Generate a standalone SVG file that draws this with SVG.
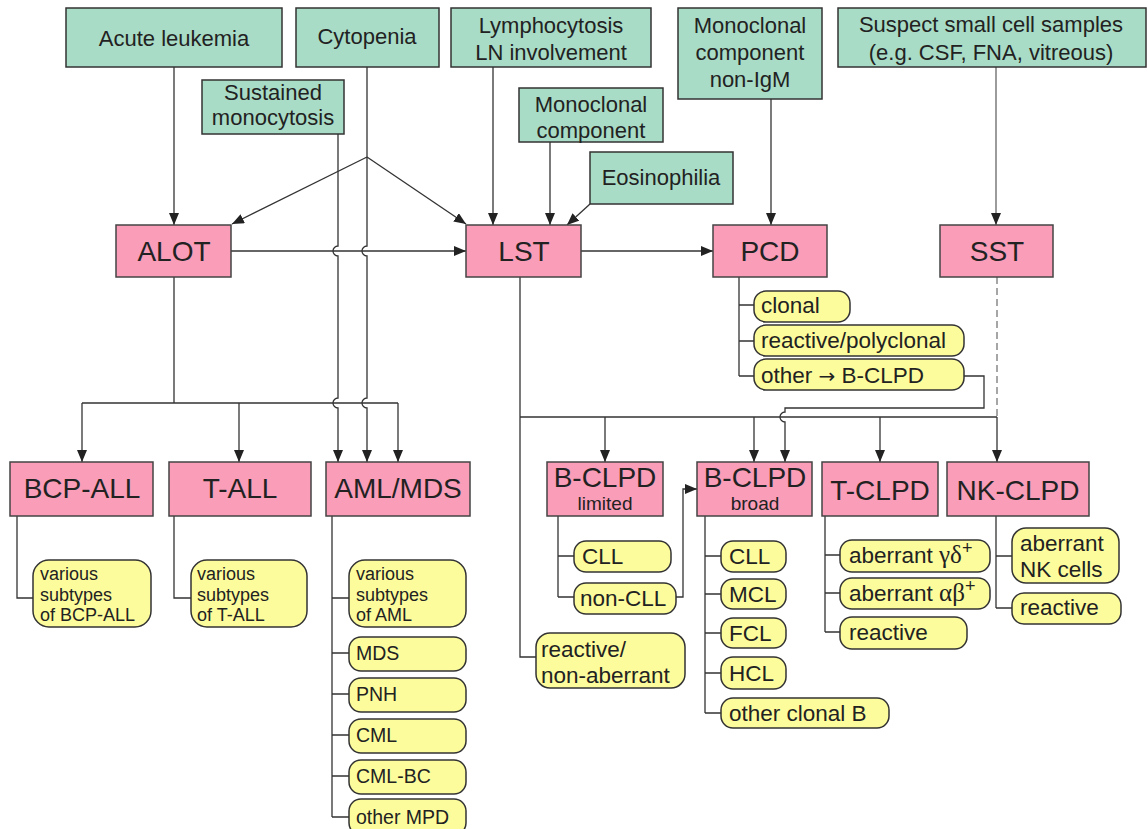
<svg xmlns="http://www.w3.org/2000/svg" width="1148" height="829" viewBox="0 0 1148 829">
<style>
.g{fill:#a9dcc6;stroke:#333;stroke-width:1.5}
.p{fill:#f99db8;stroke:#444;stroke-width:1.5}
.y{fill:#fdfc9c;stroke:#333;stroke-width:1.5}
.ln{fill:none;stroke:#333;stroke-width:1.3}
.t{font-family:"Liberation Sans",Arial,sans-serif;fill:#222}
.gt{font-size:22px;text-anchor:middle}
.pt{font-size:28px;text-anchor:middle}
.yt{font-size:22.5px}
.st{font-size:19.5px}
.mt{font-size:18px}
.gr{font-family:"Liberation Serif","DejaVu Serif",serif;font-size:25px}
.ar{font-family:"DejaVu Sans",sans-serif;font-size:20px}
</style>
<defs>
<marker id="ah" viewBox="0 0 12 10" markerWidth="12" markerHeight="10" refX="12" refY="5" orient="auto" markerUnits="userSpaceOnUse">
<path d="M0,0 L12,5 L0,10 z" fill="#222"/>
</marker>
</defs>

<g id="connectors">
<path class="ln" d="M174,67 V225" marker-end="url(#ah)"/>
<path class="ln" d="M367,67 V246 a5,5 0 0 0 0,10 V398 a5,5 0 0 0 0,10 V462" marker-end="url(#ah)"/>
<path class="ln" d="M367,157 L232,224" marker-end="url(#ah)"/>
<path class="ln" d="M367,157 L466,224" marker-end="url(#ah)"/>
<path class="ln" d="M338,134 V246 a5,5 0 0 0 0,10 V398 a5,5 0 0 0 0,10 V462" marker-end="url(#ah)"/>
<path class="ln" d="M231,251 H466" marker-end="url(#ah)"/>
<path class="ln" d="M493,67 V225" marker-end="url(#ah)"/>
<path class="ln" d="M550,142 V225" marker-end="url(#ah)"/>
<path class="ln" d="M590,204 L567,225" marker-end="url(#ah)"/>
<path class="ln" d="M771,99 V225" marker-end="url(#ah)"/>
<path class="ln" d="M996,67 V225" style="stroke:#666" marker-end="url(#ah)"/>
<path class="ln" d="M581,251 H713" marker-end="url(#ah)"/>
<path class="ln" d="M174,277 V403 M82,403 H398"/>
<path class="ln" d="M82,403 V462" marker-end="url(#ah)"/>
<path class="ln" d="M239,403 V462" marker-end="url(#ah)"/>
<path class="ln" d="M398,403 V462" marker-end="url(#ah)"/>
<path class="ln" d="M739,277 V376 M739,305 H754 M739,341 H754 M739,376 H754"/>
<path class="ln" d="M520,277 V657 H536 M520,417 H997"/>
<path class="ln" d="M997,277 V417" style="stroke:#777;stroke-dasharray:7,4"/>
<path class="ln" d="M605,417 V462" marker-end="url(#ah)"/>
<path class="ln" d="M754,417 V462" marker-end="url(#ah)"/>
<path class="ln" d="M880,417 V462" marker-end="url(#ah)"/>
<path class="ln" d="M997,417 V462" marker-end="url(#ah)"/>
<path class="ln" d="M964,376 H984 V408 H785 V412 a5,5 0 0 0 0,10 V462" marker-end="url(#ah)"/>
<path class="ln" d="M17,516 V598 H33 M174,516 V598 H191"/>
<path class="ln" d="M332,516 V817 M332,598 H349 M332,653 H349 M332,694 H349 M332,735 H349 M332,776 H349 M332,817 H349"/>
<path class="ln" d="M558,516 V597 M558,556 H574 M558,597 H574"/>
<path class="ln" d="M676,597 H683 V489 H697" marker-end="url(#ah)"/>
<path class="ln" d="M705,516 V713 M705,556 H721 M705,594 H721 M705,633 H721 M705,673 H721 M705,713 H721"/>
<path class="ln" d="M825,516 V632 M825,555 H840 M825,593 H840 M825,632 H840"/>
<path class="ln" d="M996,516 V608 M996,556 H1012 M996,608 H1012"/>
</g>

<g id="acute-leukemia"><rect class="g" x="66" y="8" width="216" height="59"/><text class="t gt" x="174" y="46">Acute leukemia</text></g>
<g id="cytopenia"><rect class="g" x="296" y="8" width="143" height="59"/><text class="t gt" x="367" y="44">Cytopenia</text></g>
<g id="sustained-monocytosis"><rect class="g" x="202" y="80" width="142" height="54"/><text class="t gt" x="273" y="100">Sustained</text><text class="t gt" x="273" y="125">monocytosis</text></g>
<g id="lymphocytosis"><rect class="g" x="451" y="8" width="200" height="59"/><text class="t gt" x="551" y="33">Lymphocytosis</text><text class="t gt" x="551" y="60">LN involvement</text></g>
<g id="monoclonal"><rect class="g" x="519" y="88" width="144" height="54"/><text class="t gt" x="591" y="112">Monoclonal</text><text class="t gt" x="591" y="138">component</text></g>
<g id="eosinophilia"><rect class="g" x="590" y="152" width="143" height="52"/><text class="t gt" x="661" y="185">Eosinophilia</text></g>
<g id="monoclonal-nonigm"><rect class="g" x="678" y="8" width="144" height="91"/><text class="t gt" x="750" y="33">Monoclonal</text><text class="t gt" x="750" y="60">component</text><text class="t gt" x="750" y="87">non-IgM</text></g>
<g id="suspect"><rect class="g" x="838" y="8" width="308" height="59"/><text class="t gt" x="991" y="32">Suspect small cell samples</text><text class="t gt" x="991" y="60">(e.g. CSF, FNA, vitreous)</text></g>

<g id="alot"><rect class="p" x="116" y="225" width="115" height="52"/><text class="t pt" x="174" y="261">ALOT</text></g>
<g id="lst"><rect class="p" x="466" y="225" width="115" height="52"/><text class="t pt" x="524" y="261">LST</text></g>
<g id="pcd"><rect class="p" x="713" y="225" width="114" height="52"/><text class="t pt" x="770" y="261">PCD</text></g>
<g id="sst"><rect class="p" x="940" y="225" width="113" height="52"/><text class="t pt" x="997" y="261">SST</text></g>

<g id="pcd-clonal"><rect class="y" x="754" y="291" width="96" height="31" rx="12"/><text class="t yt" x="761" y="313">clonal</text></g>
<g id="pcd-reactive"><rect class="y" x="754" y="325" width="210" height="31" rx="12"/><text class="t yt" x="761" y="348">reactive/polyclonal</text></g>
<g id="pcd-other"><rect class="y" x="754" y="359" width="210" height="31" rx="12"/><text class="t yt" x="761" y="383">other <tspan class="ar">→</tspan> B-CLPD</text></g>

<g id="bcp-all"><rect class="p" x="10" y="462" width="143" height="54"/><text class="t pt" x="82" y="498">BCP-ALL</text></g>
<g id="t-all"><rect class="p" x="169" y="462" width="142" height="54"/><text class="t pt" x="240" y="498">T-ALL</text></g>
<g id="aml-mds"><rect class="p" x="326" y="462" width="144" height="54"/><text class="t pt" x="398" y="498">AML/MDS</text></g>

<g id="bcp-sub"><rect class="y" x="33" y="560" width="118" height="67" rx="16"/><text class="t mt" x="40" y="580">various</text><text class="t mt" x="40" y="600.5">subtypes</text><text class="t mt" x="40" y="621">of BCP-ALL</text></g>
<g id="tall-sub"><rect class="y" x="191" y="560" width="116" height="67" rx="16"/><text class="t mt" x="197" y="580">various</text><text class="t mt" x="197" y="600.5">subtypes</text><text class="t mt" x="197" y="621">of T-ALL</text></g>
<g id="aml-sub"><rect class="y" x="349" y="560" width="117" height="67" rx="16"/><text class="t mt" x="356" y="580">various</text><text class="t mt" x="356" y="600.5">subtypes</text><text class="t mt" x="356" y="621">of AML</text></g>
<g id="mds"><rect class="y" x="349" y="637" width="117" height="34" rx="12"/><text class="t st" x="356" y="660">MDS</text></g>
<g id="pnh"><rect class="y" x="349" y="678" width="117" height="34" rx="12"/><text class="t st" x="356" y="701">PNH</text></g>
<g id="cml"><rect class="y" x="349" y="719" width="117" height="34" rx="12"/><text class="t st" x="356" y="742">CML</text></g>
<g id="cml-bc"><rect class="y" x="349" y="760" width="117" height="34" rx="12"/><text class="t st" x="356" y="783">CML-BC</text></g>
<g id="other-mpd"><rect class="y" x="349" y="799" width="117" height="36" rx="12"/><text class="t st" x="356" y="824">other MPD</text></g>

<g id="bclpd-limited"><rect class="p" x="547" y="462" width="116" height="54"/><text class="t pt" x="605" y="487">B-CLPD</text><text class="t" x="605" y="510" style="font-size:19px;text-anchor:middle">limited</text></g>
<g id="bclpd-broad"><rect class="p" x="697" y="462" width="115" height="54"/><text class="t pt" x="755" y="487">B-CLPD</text><text class="t" x="755" y="510" style="font-size:19px;text-anchor:middle">broad</text></g>
<g id="tclpd"><rect class="p" x="822" y="462" width="116" height="54"/><text class="t pt" x="880" y="500">T-CLPD</text></g>
<g id="nkclpd"><rect class="p" x="947" y="462" width="142" height="54"/><text class="t pt" x="1018" y="500">NK-CLPD</text></g>

<g id="lim-cll"><rect class="y" x="574" y="541" width="97" height="31" rx="12"/><text class="t yt" x="582" y="564">CLL</text></g>
<g id="lim-noncll"><rect class="y" x="574" y="583" width="102" height="31" rx="12"/><text class="t yt" x="580" y="606">non-CLL</text></g>
<g id="reactive-nonaberrant"><rect class="y" x="536" y="633" width="149" height="55" rx="14"/><text class="t yt" x="541" y="657">reactive/</text><text class="t yt" x="541" y="683">non-aberrant</text></g>

<g id="br-cll"><rect class="y" x="721" y="541" width="65" height="31" rx="12"/><text class="t yt" x="729" y="564">CLL</text></g>
<g id="br-mcl"><rect class="y" x="721" y="579" width="65" height="30" rx="12"/><text class="t yt" x="729" y="602">MCL</text></g>
<g id="br-fcl"><rect class="y" x="721" y="618" width="65" height="30" rx="12"/><text class="t yt" x="729" y="641">FCL</text></g>
<g id="br-hcl"><rect class="y" x="721" y="657" width="65" height="32" rx="12"/><text class="t yt" x="729" y="681">HCL</text></g>
<g id="br-other"><rect class="y" x="721" y="698" width="168" height="30" rx="12"/><text class="t yt" x="729" y="721">other clonal B</text></g>

<g id="t-gd"><rect class="y" x="840" y="540" width="150" height="32" rx="12"/><text class="t yt" x="849" y="563">aberrant <tspan class="gr">γδ</tspan><tspan dy="-9" font-size="18">+</tspan></text></g>
<g id="t-ab"><rect class="y" x="840" y="578" width="150" height="31" rx="12"/><text class="t yt" x="849" y="601">aberrant <tspan class="gr">αβ</tspan><tspan dy="-9" font-size="18">+</tspan></text></g>
<g id="t-reactive"><rect class="y" x="840" y="617" width="127" height="32" rx="12"/><text class="t yt" x="849" y="640">reactive</text></g>

<g id="nk-aberrant"><rect class="y" x="1012" y="528" width="107" height="55" rx="14"/><text class="t yt" x="1020" y="551">aberrant</text><text class="t yt" x="1020" y="577">NK cells</text></g>
<g id="nk-reactive"><rect class="y" x="1012" y="593" width="109" height="31" rx="12"/><text class="t yt" x="1020" y="615">reactive</text></g>
</svg>
